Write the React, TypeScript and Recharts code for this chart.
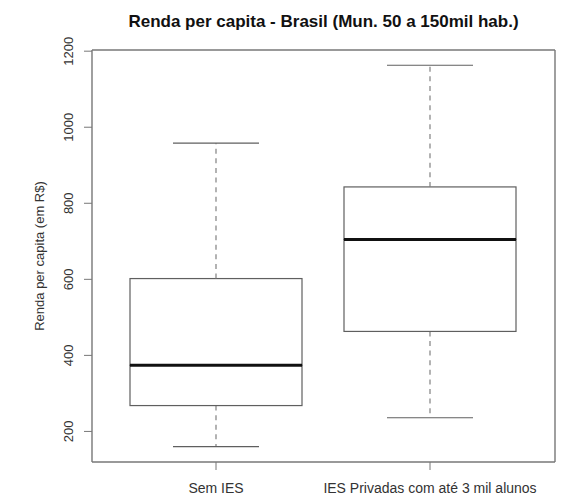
import { ComposedChart, Bar, Line, XAxis, YAxis } from 'recharts';

// Resumo das caixas (R$ per capita)
const grupos = ['Sem IES', 'IES Privadas com até 3 mil alunos'];
const minimos = [160, 236];
const quartil1 = [268, 463];
const medianas = [374, 705];
const quartil3 = [602, 843];
const maximos = [958, 1163];
const ticksY = [200, 400, 600, 800, 1000, 1200];

const dominioY: [number, number] = [119.6, 1203.1];

// segmentos empilhados: base invisível + bigode + metade inferior + metade superior + bigode
const dados = grupos.map((nome, i) => ({
  nome,
  base: minimos[i],
  bigodeInf: quartil1[i] - minimos[i],
  caixaInf: medianas[i] - quartil1[i],
  caixaSup: quartil3[i] - medianas[i],
  bigodeSup: maximos[i] - quartil3[i],
}));

const FONTE = '"Liberation Sans", Arial, Helvetica, sans-serif';
const COR_LINHA = '#5f5f5f';
const COR_EIXO = '#777';

const Vazio = () => <g />;

function BigodeInferior(props: any) {
  const { x, y, width, height } = props;
  const cx = x + width / 2;
  const fim = y + height;
  return (
    <g>
      <line x1={cx} y1={y} x2={cx} y2={fim} stroke="#808080" strokeWidth={1.2} strokeDasharray="5 4.6" />
      <line x1={cx - width / 4} y1={fim} x2={cx + width / 4} y2={fim} stroke={COR_LINHA} strokeWidth={1.2} />
    </g>
  );
}

function BigodeSuperior(props: any) {
  const { x, y, width, height } = props;
  const cx = x + width / 2;
  return (
    <g>
      <line x1={cx} y1={y + height} x2={cx} y2={y} stroke="#808080" strokeWidth={1.2} strokeDasharray="5 4.6" />
      <line x1={cx - width / 4} y1={y} x2={cx + width / 4} y2={y} stroke={COR_LINHA} strokeWidth={1.2} />
    </g>
  );
}

function CaixaInferior(props: any) {
  const { x, y, width, height } = props;
  return <rect x={x} y={y} width={width} height={height} fill="none" stroke={COR_LINHA} strokeWidth={1.2} />;
}

function CaixaSuperior(props: any) {
  const { x, y, width, height } = props;
  const med = y + height;
  return (
    <g>
      <rect x={x} y={y} width={width} height={height} fill="none" stroke={COR_LINHA} strokeWidth={1.2} />
      <line x1={x} y1={med} x2={x + width} y2={med} stroke="#111" strokeWidth={3} />
    </g>
  );
}

function TickY(props: any) {
  const { x, y, payload } = props;
  return (
    <text
      transform={`translate(${x},${y}) rotate(-90)`}
      textAnchor="middle"
      fontSize={13}
      fontFamily={FONTE}
      fill="#333"
    >
      {payload.value}
    </text>
  );
}

export default function App() {
  return (
    <div style={{ position: 'absolute', left: 0, top: 0, width: 561, height: 496, background: '#fff' }}>
      <svg width={561} height={496} style={{ position: 'absolute', left: 0, top: 0 }}>
        <text x={323.5} y={27} textAnchor="middle" fontSize={17} fontWeight="bold" fontFamily={FONTE} fill="#111">
          Renda per capita - Brasil (Mun. 50 a 150mil hab.)
        </text>
        <text transform="translate(44,256) rotate(-90)" textAnchor="middle" fontSize={13} fontFamily={FONTE} fill="#333">
          Renda per capita (em R$)
        </text>
      </svg>
      <div style={{ position: 'absolute', left: 0, top: 0 }}>
        <ComposedChart width={561} height={496} data={dados} margin={{ top: 49, right: 5, bottom: 0, left: 0 }}>
          <XAxis
            dataKey="nome"
            height={34}
            padding={{ left: 17, right: 18 }}
            tickSize={8}
            tickMargin={13}
            tick={{ fontSize: 14, fontFamily: FONTE, fill: '#333' }}
            tickLine={{ stroke: COR_EIXO }}
            axisLine={{ stroke: COR_EIXO, strokeWidth: 1.4 }}
            interval={0}
          />
          {/* eixos de cima e da direita só fecham a moldura */}
          <XAxis
            xAxisId="topo"
            dataKey="nome"
            orientation="top"
            height={1}
            tick={false}
            tickLine={false}
            axisLine={{ stroke: COR_EIXO, strokeWidth: 1.4 }}
          />
          <YAxis
            type="number"
            width={92}
            domain={dominioY}
            allowDataOverflow
            ticks={ticksY}
            interval={0}
            tickSize={8}
            tickMargin={11}
            tick={<TickY />}
            tickLine={{ stroke: COR_EIXO }}
            axisLine={{ stroke: COR_EIXO, strokeWidth: 1.4 }}
          />
          <YAxis
            yAxisId="dir"
            type="number"
            orientation="right"
            width={1}
            domain={dominioY}
            allowDataOverflow
            tick={false}
            tickLine={false}
            axisLine={{ stroke: COR_EIXO, strokeWidth: 1.4 }}
          />
          <Bar dataKey="base" stackId="box" barSize={172} shape={<Vazio />} isAnimationActive={false} />
          <Bar dataKey="bigodeInf" stackId="box" barSize={172} shape={<BigodeInferior />} isAnimationActive={false} />
          <Bar dataKey="caixaInf" stackId="box" barSize={172} shape={<CaixaInferior />} isAnimationActive={false} />
          <Bar dataKey="caixaSup" stackId="box" barSize={172} shape={<CaixaSuperior />} isAnimationActive={false} />
          <Bar dataKey="bigodeSup" stackId="box" barSize={172} shape={<BigodeSuperior />} isAnimationActive={false} />
          <Line
            xAxisId="topo"
            yAxisId="dir"
            dataKey="base"
            stroke="none"
            dot={false}
            activeDot={false}
            legendType="none"
            isAnimationActive={false}
          />
        </ComposedChart>
      </div>
    </div>
  );
}
